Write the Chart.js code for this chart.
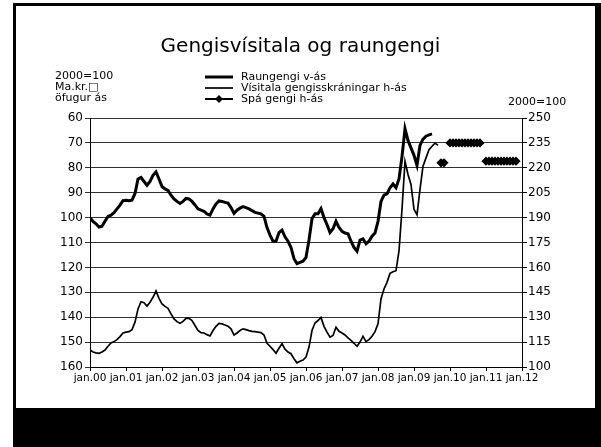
<!DOCTYPE html>
<html>
<head>
<meta charset="utf-8">
<script src="https://cdn.jsdelivr.net/npm/chart.js@4.4.1/dist/chart.umd.min.js"></script>
<style>
    html, body { margin: 0; padding: 0; background: #fff; }
    #wrap { position: relative; width: 601px; height: 447px; overflow: hidden; background: #fff; }
    .blk { position: absolute; background: #000; }
    #chartBox { position: absolute; left: 0; top: 0; width: 601px; height: 447px; }
</style>
</head>
<body>
<div id="wrap">
    <div class="blk" style="left:13px; top:3px; width:3px; height:444px;"></div>
    <div class="blk" style="left:13px; top:3px; width:588px; height:3px;"></div>
    <div class="blk" style="left:595px; top:3px; width:6px; height:444px;"></div>
    <div class="blk" style="left:13px; top:408px; width:588px; height:39px;"></div>
    <div id="chartBox"><canvas id="chart" width="601" height="447"></canvas></div>
</div>
<script>
// Monthly data, first value = jan.00 (month index 0)
const xTickLabels = ['jan.00', 'jan.01', 'jan.02', 'jan.03', 'jan.04', 'jan.05', 'jan.06',
                     'jan.07', 'jan.08', 'jan.09', 'jan.10', 'jan.11', 'jan.12'];

// Raungengi, left axis (reversed), 2000=100
const raungengi = [
    100, 101.5, 102.5, 103.8, 103.5, 101.5, 99.5, 99, 98, 96.5, 95, 93.2,
    93, 93.2, 93, 90.3, 84.5, 83.9, 85.5, 87, 85.5, 83, 81.6, 84.5,
    87.5, 88.5, 89.1, 91, 92.5, 93.5, 94.3, 93.5, 92.3, 92.5, 93.5, 94.9,
    96.5, 97, 97.5, 98.5, 99, 96.5, 94.5, 93.3, 93.5, 93.9, 94.2, 96,
    98.3, 97, 96.2, 95.6, 96, 96.5, 97.2, 97.9, 98.2, 98.5, 99.5, 104,
    107, 109.5, 109.5, 106, 105, 107.7, 109.5, 112, 116.5, 118.5, 118, 117.5,
    116, 109, 100.5, 98.5, 98.5, 96.4, 100, 102.8, 106, 104.5, 101.5, 104,
    105.5, 106.2, 106.5, 109.5, 112, 113.5, 109, 108.5, 110.5, 109.5, 107.5, 106.2,
    101.5, 93.5, 91, 90.5, 88, 86.5, 88, 84.5, 75.5, 64.3, 69, 72,
    75, 79, 71, 68.5, 67.3, 66.8, 66.4
];

// Visitala gengisskraningar, right axis
const visitala = [
    110.2, 109, 108.5, 108.2, 109, 110.2, 112.5, 114.5, 115.3, 116.5, 118.3, 120.5,
    121, 121.3, 122.5, 127, 135, 139.3, 138.7, 136.7, 139, 142, 145.8, 141.4,
    138, 136.5, 135.4, 132, 129, 127.3, 126.3, 127.5, 129.3, 129.3, 128, 125,
    122, 120.7, 120.5, 119.5, 118.7, 122, 124.5, 126.3, 126, 125.3, 124.5, 123,
    119.3, 120.5, 122, 123, 122.5, 121.9, 121.5, 121.3, 121, 120.7, 119.3, 114.3,
    112.5, 110.5, 108.3, 111.3, 114, 110.7, 109, 108, 105, 102.5, 103.5, 104.2,
    106, 112, 122, 126.5, 128, 129.9, 124.5, 121, 118, 119, 123.9, 121.5,
    120.5, 119.3, 117.5, 116, 114.3, 112.5, 115, 118.5, 115.3, 116.5, 118.5, 121.3,
    126, 141, 147, 151, 156.4, 157.4, 158, 170, 195, 223.9, 216, 210,
    195, 191.7, 207, 221, 226, 230.9, 233, 234.9, 233.5
];

// Spa gengi (forecast), right axis, starting at month 117
const spaStart = 117;
const spaGengi = [
    223, 223, null,
    235, 235, 235, 235, 235, 235, 235, 235, 235, 235, 235, null,
    224, 224, 224, 224, 224, 224, 224, 224, 224, 224, 224
];

function toPoints(values, start) {
    return values.map(function(v, i) { return { x: start + i, y: v }; });
}

Chart.defaults.font.family = "'DejaVu Sans', Verdana, sans-serif";
Chart.defaults.color = '#000';

// Legend and axis captions drawn from the datasets
const captions = {
    id: 'captions',
    afterDraw(chart) {
        const ctx = chart.ctx;
        ctx.save();
        ctx.fillStyle = '#000';
        ctx.strokeStyle = '#000';
        ctx.font = "11px 'DejaVu Sans'";
        ctx.textBaseline = 'middle';
        ctx.textAlign = 'left';
        ['2000=100', 'Ma.kr.\u25A1', 'öfugur ás'].forEach(function(t, i) {
            ctx.fillText(t, 55, 76 + i * 11);
        });
        ctx.fillText('2000=100', 508, 102);

        chart.data.datasets.forEach(function(ds, i) {
            const y = 77 + i * 11;
            ctx.lineWidth = ds.borderWidth;
            ctx.beginPath();
            ctx.moveTo(205, y);
            ctx.lineTo(233, y);
            ctx.stroke();
            if (ds.pointRadius > 0) {
                const r = 4;
                ctx.beginPath();
                ctx.moveTo(219, y - r);
                ctx.lineTo(219 + r, y);
                ctx.lineTo(219, y + r);
                ctx.lineTo(219 - r, y);
                ctx.closePath();
                ctx.fill();
            }
            ctx.fillText(ds.label, 241, y);
        });
        ctx.restore();
    }
};

new Chart(document.getElementById('chart'), {
    type: 'line',
    data: {
        datasets: [
            {
                label: 'Raungengi v-ás',
                data: toPoints(raungengi, 0),
                yAxisID: 'y',
                borderColor: '#000',
                borderWidth: 3,
                pointRadius: 0,
                tension: 0
            },
            {
                label: 'Vísitala gengisskráningar h-ás',
                data: toPoints(visitala, 0),
                yAxisID: 'y2',
                borderColor: '#000',
                borderWidth: 1.7,
                pointRadius: 0,
                tension: 0
            },
            {
                label: 'Spá gengi h-ás',
                data: toPoints(spaGengi, spaStart),
                yAxisID: 'y2',
                borderColor: '#000',
                backgroundColor: '#000',
                borderWidth: 2,
                pointStyle: 'rectRot',
                pointRadius: 3.2,
                spanGaps: false
            }
        ]
    },
    options: {
        responsive: false,
        animation: false,
        events: [],
        layout: { padding: 0 },
        plugins: {
            legend: { display: false },
            tooltip: { enabled: false },
            title: {
                display: true,
                text: 'Gengisvísitala og raungengi',
                font: { size: 20, weight: 'normal' },
                color: '#000',
                padding: { top: 35, bottom: 59 }
            }
        },
        scales: {
            x: {
                type: 'linear',
                min: 0,
                max: 144,
                ticks: {
                    stepSize: 12,
                    autoSkip: false,
                    maxRotation: 0,
                    padding: 1,
                    font: { size: 10.5 },
                    callback: function(v) { return xTickLabels[v / 12]; }
                },
                grid: { drawOnChartArea: false, tickLength: 4, color: '#000' },
                border: { color: '#000' },
                afterFit: function(s) { s.height = 80; }
            },
            y: {
                position: 'left',
                reverse: true,
                min: 60,
                max: 160,
                ticks: { stepSize: 10, padding: 2, font: { size: 12 } },
                grid: { color: '#333', tickLength: 5 },
                border: { color: '#000' },
                afterFit: function(s) { s.width = 90; }
            },
            y2: {
                position: 'right',
                min: 100,
                max: 250,
                ticks: { stepSize: 15, padding: 1, font: { size: 12 } },
                grid: { drawOnChartArea: false, tickLength: 5, color: '#000' },
                border: { color: '#000' },
                afterFit: function(s) { s.width = 79; }
            }
        }
    },
    plugins: [captions]
});
</script>
</body>
</html>
